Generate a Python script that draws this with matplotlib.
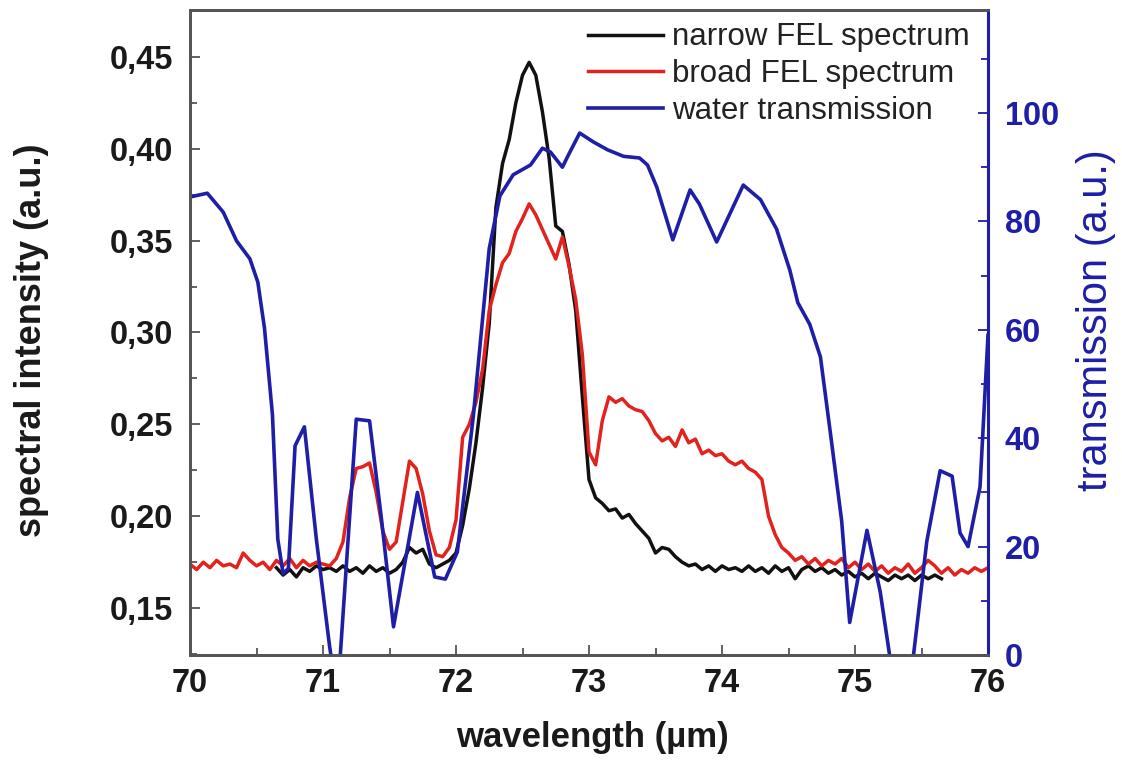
import numpy as np
import matplotlib
matplotlib.use("Agg")
import matplotlib.pyplot as plt
from matplotlib.ticker import MultipleLocator

plt.rcParams['font.family'] = ['Liberation Sans', 'DejaVu Sans']

# ---------------- data ----------------
# broad FEL spectrum, sampled every 0.05 um from 70.00 to 76.00
broad_start, broad_stop = 70.00, 76.00
broad_vals = [
    0.174, 0.171, 0.175, 0.172, 0.176, 0.173, 0.174, 0.172, 0.180, 0.176,
    0.173, 0.175, 0.171, 0.176, 0.173, 0.177, 0.172, 0.176, 0.173, 0.175,
    0.174, 0.173, 0.177, 0.186, 0.210, 0.226, 0.227, 0.229, 0.213, 0.192,
    0.182, 0.186, 0.208, 0.230, 0.226, 0.212, 0.192, 0.179, 0.178, 0.183,
    0.198, 0.243, 0.250, 0.262, 0.280, 0.312, 0.326, 0.338, 0.343, 0.355,
    0.362, 0.370, 0.364, 0.356, 0.348, 0.340, 0.352, 0.336, 0.318, 0.288,
    0.235, 0.228, 0.252, 0.265, 0.262, 0.264, 0.260, 0.258, 0.257, 0.252,
    0.245, 0.241, 0.243, 0.238, 0.247, 0.240, 0.242, 0.234, 0.236, 0.233,
    0.234, 0.230, 0.228, 0.230, 0.226, 0.224, 0.220, 0.200, 0.190, 0.183,
    0.180, 0.176, 0.178, 0.174, 0.177, 0.173, 0.176, 0.174, 0.177, 0.172,
    0.175, 0.171, 0.174, 0.170, 0.173, 0.169, 0.172, 0.170, 0.174, 0.169,
    0.172, 0.176, 0.173, 0.169, 0.172, 0.168, 0.171, 0.169, 0.172, 0.170,
    0.172,
]

# narrow FEL spectrum, sampled every 0.05 um from 70.65 to 75.65
narrow_start, narrow_stop = 70.65, 75.65
narrow_vals = [
    0.172, 0.168, 0.171, 0.167, 0.172, 0.170, 0.173, 0.171, 0.172, 0.170,
    0.173, 0.170, 0.172, 0.169, 0.173, 0.170, 0.172, 0.169, 0.171, 0.175,
    0.183, 0.180, 0.182, 0.174, 0.172, 0.174, 0.176, 0.180, 0.195, 0.215,
    0.240, 0.270, 0.305, 0.368, 0.392, 0.405, 0.425, 0.440, 0.447, 0.440,
    0.420, 0.395, 0.358, 0.355, 0.337, 0.312, 0.265, 0.220, 0.210, 0.207,
    0.203, 0.204, 0.199, 0.201, 0.196, 0.192, 0.188, 0.180, 0.183, 0.182,
    0.178, 0.175, 0.173, 0.174, 0.171, 0.173, 0.170, 0.173, 0.171, 0.172,
    0.170, 0.173, 0.170, 0.172, 0.169, 0.173, 0.170, 0.172, 0.166, 0.171,
    0.173, 0.170, 0.172, 0.169, 0.171, 0.168, 0.170, 0.167, 0.169, 0.166,
    0.169, 0.167, 0.165, 0.168, 0.166, 0.168, 0.165, 0.168, 0.166, 0.168,
    0.166,
]

# water transmission (right axis)
water_x = [70.00, 70.13, 70.25, 70.35, 70.45, 70.51, 70.56, 70.62, 70.66, 70.70,
           70.74, 70.79, 70.86, 70.95, 71.05, 71.09, 71.13, 71.25, 71.35, 71.44,
           71.53, 71.71, 71.84, 71.92, 72.01, 72.13, 72.25, 72.33, 72.43, 72.56,
           72.65, 72.71, 72.80, 72.84, 72.93, 73.03, 73.14, 73.26, 73.38, 73.44,
           73.51, 73.63, 73.76, 73.83, 73.96, 74.16, 74.29, 74.41, 74.51, 74.57,
           74.66, 74.74, 74.82, 74.90, 74.96, 75.09, 75.19, 75.26, 75.35, 75.44,
           75.54, 75.64, 75.73, 75.79, 75.85, 75.94, 76.00]
water_t = [84.5, 85.2, 81.7, 76.4, 73.1, 68.8, 60.3, 44.3, 21.4, 15.0,
           16.0, 38.6, 42.1, 21.4, 1.5, -5.0, 0.0, 43.5, 43.2, 25.0,
           5.2, 30.0, 14.4, 14.0, 19.0, 44.0, 75.0, 84.7, 88.6, 90.4,
           93.5, 92.8, 90.0, 92.0, 96.3, 94.7, 93.2, 92.0, 91.7, 90.4,
           86.3, 76.6, 85.8, 83.2, 76.2, 86.7, 84.0, 78.6, 71.0, 65.0,
           61.0, 55.0, 40.0, 24.7, 6.0, 23.0, 11.6, 0.0, -6.0, 0.0,
           21.0, 34.0, 33.0, 22.5, 20.0, 31.0, 59.0]

left_ticks = [0.15, 0.20, 0.25, 0.30, 0.35, 0.40, 0.45]
left_tick_labels = ["0,15", "0,20", "0,25", "0,30", "0,35", "0,40", "0,45"]
right_ticks = [0, 20, 40, 60, 80, 100]
x_ticks = [70, 71, 72, 73, 74, 75, 76]

labels = ["narrow FEL spectrum", "broad FEL spectrum", "water transmission"]

# ---------------- style ----------------
BLACK = "#111111"
RED = "#e2231d"
BLUE = "#1e1ea6"
SPINE = "#555555"

broad_x = np.linspace(broad_start, broad_stop, len(broad_vals))
narrow_x = np.linspace(narrow_start, narrow_stop, len(narrow_vals))

fig = plt.figure(figsize=(11.22, 7.6), dpi=100)
ax = fig.add_axes([190 / 1122, 105 / 760, 798 / 1122, 645 / 760])
ax2 = ax.twinx()

l1, = ax.plot(narrow_x, narrow_vals, color=BLACK, lw=2.5, label=labels[0])
l2, = ax.plot(broad_x, broad_vals, color=RED, lw=2.5, label=labels[1])
l3, = ax2.plot(water_x, water_t, color=BLUE, lw=2.6, label=labels[2])

ax.set_xlim(70, 76)
ax.set_ylim(0.1245, 0.4755)
ax2.set_ylim(0, 119)

ax.set_xticks(x_ticks)
ax.set_xticklabels([str(v) for v in x_ticks])
ax.xaxis.set_minor_locator(MultipleLocator(0.5))
ax.set_yticks(left_ticks)
ax.set_yticklabels(left_tick_labels)
ax.yaxis.set_minor_locator(MultipleLocator(0.025))
ax2.set_yticks(right_ticks)
ax2.set_yticklabels([str(v) for v in right_ticks])
ax2.yaxis.set_minor_locator(MultipleLocator(10))

ax.tick_params(axis="both", which="both", direction="in", top=False, right=False,
               color=SPINE, width=1.3)
ax.tick_params(axis="both", which="major", length=7)
ax.tick_params(axis="both", which="minor", length=5)
ax.tick_params(axis="y", which="major", pad=12)
ax.tick_params(axis="x", which="major", pad=9)
ax2.tick_params(axis="y", which="both", direction="in", color=BLUE, width=1.3,
                labelcolor=BLUE, pad=12)
ax2.tick_params(axis="y", which="major", length=7)
ax2.tick_params(axis="y", which="minor", length=5)
for lab in ax.get_xticklabels() + ax.get_yticklabels():
    lab.set_fontsize(23.5)
    lab.set_fontweight("bold")
    lab.set_color("#1a1a1a")
for lab in ax2.get_yticklabels():
    lab.set_fontsize(23.5)
    lab.set_fontweight("bold")

for s in ["left", "bottom", "top"]:
    ax.spines[s].set_color(SPINE)
    ax.spines[s].set_linewidth(2)
    ax2.spines[s].set_color(SPINE)
    ax2.spines[s].set_linewidth(2)
ax.spines["right"].set_visible(False)
ax2.spines["right"].set_color(BLUE)
ax2.spines["right"].set_linewidth(2.2)

fig.text(32 / 1122, 1 - 340 / 760, "spectral intensity (a.u.)", rotation=90,
         ha="center", va="center", fontsize=26, fontweight="bold", color="#1a1a1a")
fig.text(592 / 1122, 1 - 738 / 760, "wavelength (\u00b5m)",
         ha="center", va="center", fontsize=25, fontweight="bold", color="#1a1a1a")
fig.text(1096 / 1122, 1 - 320 / 760, "transmission (a.u.)", rotation=90,
         ha="center", va="center", fontsize=30, color=BLUE)

leg = ax2.legend([l1, l2, l3], labels, loc="upper right", frameon=False,
                 bbox_to_anchor=(0.993, 1.0),
                 fontsize=22.5, handlelength=2.4, handletextpad=0.3,
                 labelspacing=0.22, borderpad=0.1, borderaxespad=0.3)
for t in leg.get_texts():
    t.set_color("#222222")

fig.savefig("out.png", dpi=100)
